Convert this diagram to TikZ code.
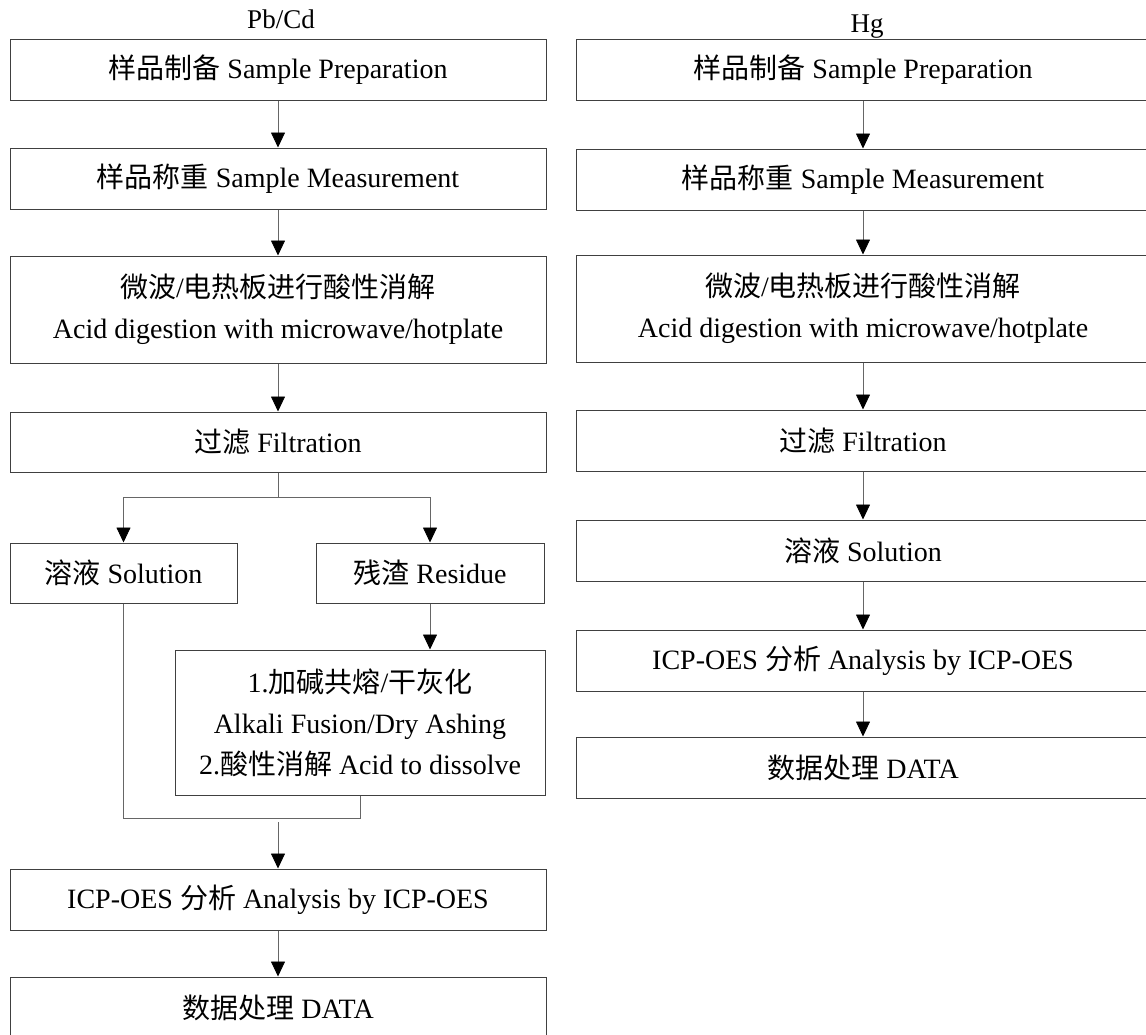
\documentclass[tikz,border=0pt]{standalone}
\usepackage{fontspec}
\setmainfont{Liberation Serif}
\newfontfamily\cjk{Noto Sans CJK SC}
\usetikzlibrary{arrows.meta}
\newcommand{\zh}[1]{{\cjk #1}}

\begin{document}
\begin{tikzpicture}[x=1pt,y=-1pt,
                    every node/.style={font=\fontsize{28}{41}\selectfont},
                    stepbox/.style={draw=black!75,line width=1pt,align=center,
                                    inner sep=0pt,minimum height=61pt},
                    lbox/.style={stepbox,minimum width=536pt},
                    rbox/.style={stepbox,minimum width=574pt},
                    wire/.style={draw=black!60,line width=0.8pt},
                    flow/.style={wire,-{Triangle[length=15pt,width=14pt,color=black]}}]

  \useasboundingbox (0,0) rectangle (1146,1034);

  % Pb/Cd
  \node[anchor=base,font=\fontsize{27}{30}\selectfont] (pbcd) at (281,28) {Pb/Cd};
  \node[lbox] (lprep) at (278,69.5) {\zh{样品制备} Sample Preparation};
  \node[lbox] (lmeas) at (278,178.5) {\zh{样品称重} Sample Measurement};
  \node[lbox,minimum height=107pt] (ldig) at (278,309.5)
       {\zh{微波}/\zh{电热板进行酸性消解}\\Acid digestion with microwave/hotplate};
  \node[lbox,minimum height=60pt] (lfilt) at (278,442) {\zh{过滤} Filtration};
  \node[stepbox,minimum width=227pt,minimum height=60pt] (lsol) at (123.5,573) {\zh{溶液} Solution};
  \node[stepbox,minimum width=228pt,minimum height=60pt] (lres) at (430,573) {\zh{残渣} Residue};
  \node[stepbox,minimum width=370pt,minimum height=145pt] (lproc) at (360,722.5)
       {1.\zh{加碱共熔}/\zh{干灰化}\\Alkali Fusion/Dry Ashing\\2.\zh{酸性消解} Acid to dissolve};
  \node[lbox] (licp) at (278,899.5) {ICP-OES \zh{分析} Analysis by ICP-OES};
  \node[lbox] (ldata) at (278,1007.5) {\zh{数据处理} DATA};

  % Hg
  \node[anchor=base,font=\fontsize{27}{30}\selectfont] (hg) at (867,32) {Hg};
  \node[rbox] (rprep) at (863,70) {\zh{样品制备} Sample Preparation};
  \node[rbox] (rmeas) at (863,179.5) {\zh{样品称重} Sample Measurement};
  \node[rbox,minimum height=107pt] (rdig) at (863,308.5)
       {\zh{微波}/\zh{电热板进行酸性消解}\\Acid digestion with microwave/hotplate};
  \node[rbox] (rfilt) at (863,440.5) {\zh{过滤} Filtration};
  \node[rbox] (rsol) at (863,550.5) {\zh{溶液} Solution};
  \node[rbox] (ricp) at (863,660.5) {ICP-OES \zh{分析} Analysis by ICP-OES};
  \node[rbox] (rdata) at (863,767.5) {\zh{数据处理} DATA};

  \foreach \a/\b in {lprep/lmeas,lmeas/ldig,ldig/lfilt,licp/ldata,
                     rprep/rmeas,rmeas/rdig,rdig/rfilt,rfilt/rsol,rsol/ricp,ricp/rdata}
    \draw[flow] (\a) -- (\b);

  \coordinate (lsplit) at (278,497);
  \draw[wire] (lfilt) -- (lsplit);
  \draw[flow] (lsplit) -| (lsol);
  \draw[flow] (lsplit) -| (lres);
  \draw[flow] (lres.south) -- (lres.south |- lproc.north);

  \coordinate (lmerge) at (360,818);
  \coordinate (lout) at (278,822);
  \draw[wire] (lsol.south) |- (lmerge) -- (lproc.south);
  \draw[flow] (lout) -- (licp);
\end{tikzpicture}
\end{document}
